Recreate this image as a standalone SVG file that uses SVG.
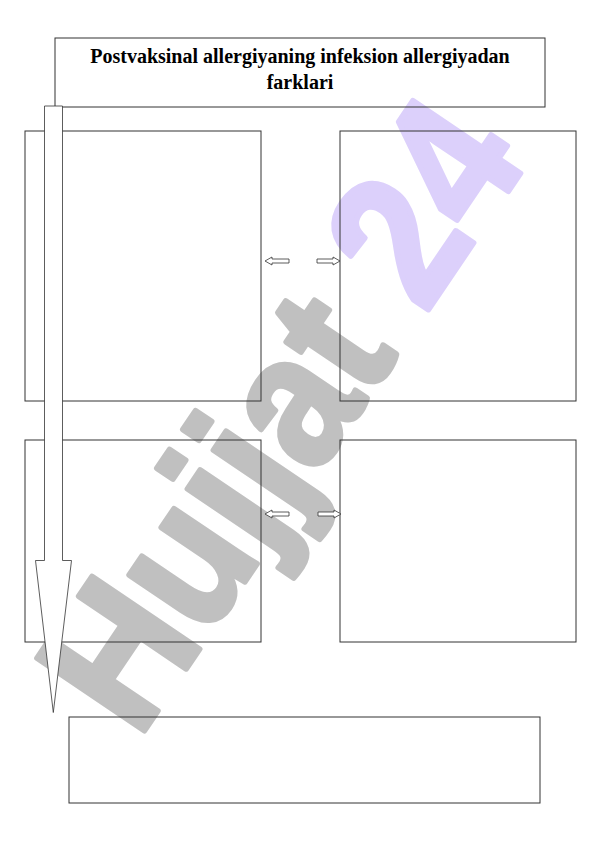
<svg xmlns="http://www.w3.org/2000/svg" width="596" height="842" viewBox="0 0 596 842">
<style>
.box{fill:none;stroke:#333;stroke-width:1}
.arr{fill:#fff;stroke:#333;stroke-width:0.8}
.title{font-family:"Liberation Serif","Times New Roman",serif;font-weight:bold;font-size:20px;fill:#000;text-anchor:middle}
.wm{font-family:"Liberation Sans",Arial,sans-serif;font-weight:bold;font-size:188px;stroke-width:6;stroke-linejoin:round}
</style>
<rect width="596" height="842" fill="#fff"/>
<g id="watermark">
<text class="wm" x="138" y="740" transform="rotate(-56 138 740)" textLength="700" lengthAdjust="spacingAndGlyphs"><tspan fill="#c0c0c0" stroke="#c0c0c0">Hujjat</tspan><tspan fill="#dcd0fb" stroke="#dcd0fb"> 24</tspan></text>
</g>
<g id="title">
<rect class="box" x="55" y="38" width="490" height="69"/>
<text class="title" x="300" y="63">Postvaksinal allergiyaning infeksion allergiyadan</text>
<text class="title" x="300" y="89">farklari</text>
</g>
<g id="box-tl"><rect class="box" x="25" y="131" width="236" height="270"/></g>
<g id="box-tr"><rect class="box" x="340" y="131" width="236" height="270"/></g>
<g id="box-bl"><rect class="box" x="25" y="440" width="236" height="202"/></g>
<g id="box-br"><rect class="box" x="340" y="440" width="236" height="202"/></g>
<g id="box-bottom"><rect class="box" x="69" y="717" width="471" height="86"/></g>
<g id="connectors">
<polygon class="arr" points="44.5,106 62.5,106 62.5,560.5 71.5,560.5 53.3,712.5 35.5,560.5 44.5,560.5"/>
<polygon class="arr" points="265,261 272,257 272,259 289,259 289,263 272,263 272,265"/>
<polygon class="arr" points="340,261 333,257 333,259 317,259 317,263 333,263 333,265"/>
<polygon class="arr" points="265,514 272,510 272,512 289,512 289,516 272,516 272,518"/>
<polygon class="arr" points="341,514 334,510 334,512 318,512 318,516 334,516 334,518"/>
</g>
</svg>
